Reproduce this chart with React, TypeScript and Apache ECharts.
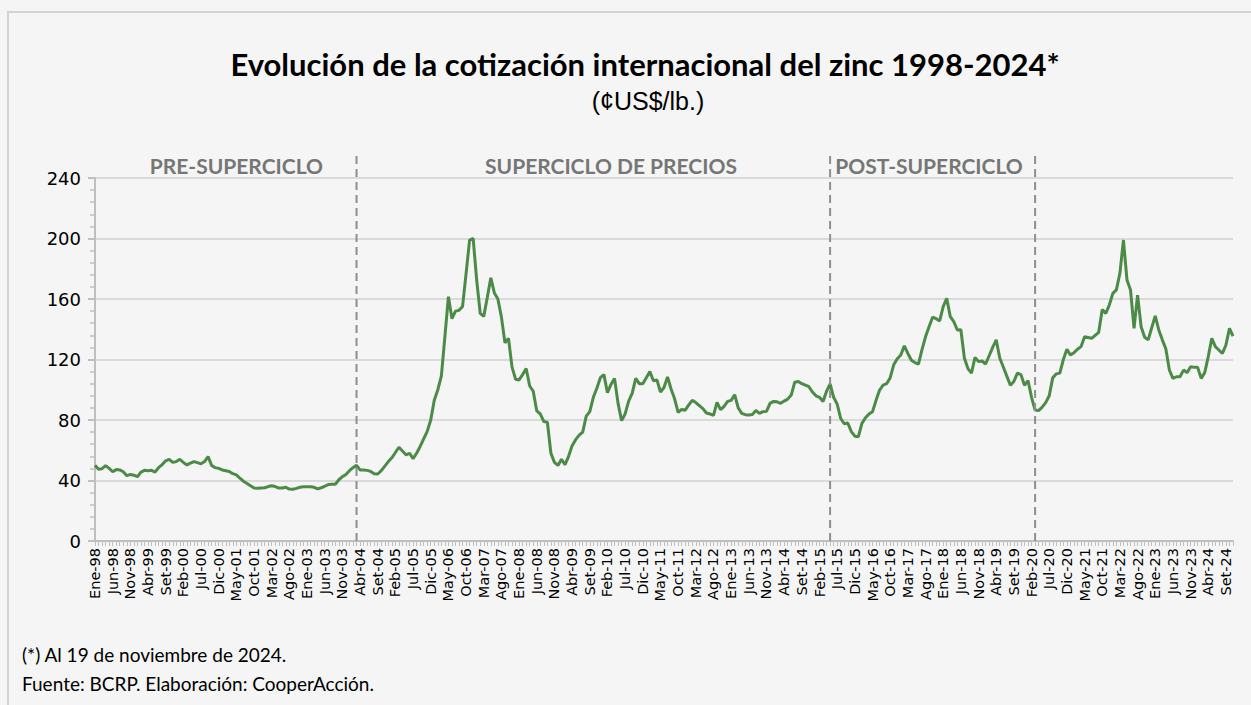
import React, { useEffect, useRef } from "react";
import * as echarts from "echarts";

const monthNames = ["Ene", "Feb", "Mar", "Abr", "May", "Jun", "Jul", "Ago", "Set", "Oct", "Nov", "Dic"];
const firstYear = 1998;
const lastYear = 2024;
const monthsInLastYear = 11;

// Cotización mensual del zinc (¢US$/lb.)
const y1998 = [50.0, 47.5, 47.8, 49.8, 48.0, 45.8, 47.2, 47.0, 45.8, 43.2, 44.0, 43.5];
const y1999 = [42.5, 45.5, 46.7, 46.5, 46.7, 45.6, 48.5, 50.5, 53.0, 54.0, 52.0, 52.5];
const y2000 = [54.0, 52.0, 50.3, 51.5, 52.5, 51.8, 51.0, 52.5, 55.8, 50.0, 48.5, 48.0];
const y2001 = [47.0, 46.5, 46.0, 44.5, 43.7, 41.5, 39.5, 38.0, 36.5, 35.0, 34.8, 35.0];
const y2002 = [35.2, 36.0, 36.5, 36.0, 35.0, 35.0, 35.5, 34.3, 34.2, 34.8, 35.5, 35.8];
const y2003 = [35.8, 35.8, 35.5, 34.5, 35.2, 36.2, 37.3, 37.5, 37.5, 40.5, 42.5, 44.0];
const y2004 = [46.5, 48.5, 50.0, 47.0, 47.0, 46.7, 46.0, 44.5, 44.3, 46.5, 49.5, 52.5];
const y2005 = [55.0, 58.5, 62.0, 59.5, 57.0, 58.0, 54.5, 58.0, 62.5, 67.5, 72.5, 80.0];
const y2006 = [93.0, 100.0, 109.0, 135.0, 161.5, 147.0, 152.0, 152.5, 155.0, 177.0, 199.0, 200.0];
const y2007 = [172.5, 150.5, 148.5, 161.0, 174.0, 164.0, 160.0, 148.0, 131.0, 134.0, 115.0, 107.0];
const y2008 = [106.5, 110.0, 114.0, 102.5, 99.0, 86.0, 84.0, 79.0, 78.5, 58.0, 52.0, 50.0];
const y2009 = [54.0, 50.5, 56.0, 63.0, 67.0, 70.0, 72.0, 82.6, 85.5, 95.0, 101.0, 108.0];
const y2010 = [110.0, 98.0, 103.5, 107.5, 91.0, 79.6, 84.0, 92.5, 97.6, 107.5, 104.0, 104.0];
const y2011 = [108.0, 112.0, 106.0, 106.5, 98.5, 101.5, 108.5, 100.5, 94.0, 85.0, 87.0, 86.5];
const y2012 = [90.0, 93.0, 91.5, 89.5, 87.5, 84.6, 84.0, 83.0, 91.6, 86.8, 89.0, 92.3];
const y2013 = [93.0, 96.7, 88.0, 84.4, 83.5, 83.3, 83.7, 86.3, 84.4, 85.5, 85.7, 91.0];
const y2014 = [92.3, 92.0, 91.0, 92.5, 93.8, 96.5, 105.0, 105.5, 104.0, 103.0, 102.0, 98.5];
const y2015 = [96.0, 95.0, 92.3, 99.0, 103.8, 95.0, 90.5, 81.0, 77.5, 78.0, 72.3, 69.3];
const y2016 = [69.0, 77.8, 81.5, 84.0, 85.5, 93.0, 99.8, 103.0, 104.0, 108.0, 116.5, 120.5];
const y2017 = [123.0, 129.0, 124.0, 119.5, 118.0, 117.0, 126.5, 135.0, 141.7, 148.0, 147.0, 145.5];
const y2018 = [155.0, 160.5, 148.3, 145.0, 139.5, 139.7, 120.8, 114.0, 111.0, 121.4, 118.6, 119.0];
const y2019 = [117.0, 122.5, 128.0, 133.0, 121.0, 115.0, 109.0, 103.0, 105.5, 111.0, 110.0, 103.0];
const y2020 = [106.0, 95.0, 86.6, 86.2, 88.5, 91.5, 96.0, 108.0, 110.5, 111.0, 120.0, 126.7];
const y2021 = [123.0, 124.5, 126.8, 128.5, 135.0, 134.5, 134.0, 136.0, 138.0, 153.0, 150.5, 156.0];
const y2022 = [163.7, 166.0, 177.0, 199.0, 172.6, 166.0, 140.6, 162.6, 141.7, 134.7, 133.0, 141.0];
const y2023 = [148.8, 139.5, 133.0, 127.0, 113.0, 107.5, 108.6, 108.6, 113.0, 111.3, 115.2, 114.8];
const y2024 = [114.8, 107.5, 111.3, 121.9, 134.0, 128.5, 126.3, 124.0, 129.6, 140.6, 135.5];

const zincValues = [
  ...y1998, ...y1999, ...y2000, ...y2001, ...y2002, ...y2003, ...y2004, ...y2005, ...y2006,
  ...y2007, ...y2008, ...y2009, ...y2010, ...y2011, ...y2012, ...y2013, ...y2014, ...y2015,
  ...y2016, ...y2017, ...y2018, ...y2019, ...y2020, ...y2021, ...y2022, ...y2023, ...y2024,
];

const categories: string[] = [];
for (let y = firstYear; y <= lastYear; y++) {
  for (let m = 0; m < 12; m++) {
    if (y === lastYear && m >= monthsInLastYear) break;
    categories.push(`${monthNames[m]}-${String(y).slice(2)}`);
  }
}

const yMin = 0;
const yMax = 240;
const yStep = 40;

const periodBreaks = ["Mar-04", "May-15", "Mar-20"];
const periodLabels = ["PRE-SUPERCICLO", "SUPERCICLO DE PRECIOS", "POST-SUPERCICLO"];
const periodLabelAnchors = ["May-01", "Mar-10", "Set-17"];

const titleText = "Evolución de la cotización internacional del zinc 1998-2024*";
const subtitleText = "(¢US$/lb.)";
const noteText = "(*) Al 19 de noviembre de 2024.";
const sourceText = "Fuente: BCRP. Elaboración: CooperAcción.";

const BG = "#f4f5f4";
const LINE = "#4b8b47";
const AXIS = "#bfbfbf";

export default function App() {
  const ref = useRef<HTMLDivElement>(null);

  useEffect(() => {
    const el = ref.current;
    if (!el) return;
    const chart = echarts.init(el, null, { renderer: "svg" });
    chart.setOption({
      animation: false,
      backgroundColor: BG,
      grid: { left: 95, top: 178, width: 1138, height: 363, containLabel: false },
      xAxis: {
        type: "category",
        data: categories,
        boundaryGap: false,
        axisLine: { show: true, lineStyle: { color: AXIS, width: 2 } },
        axisTick: { show: true, interval: 0, length: 5, lineStyle: { color: AXIS, width: 1 } },
        axisLabel: {
          interval: 4,
          rotate: 90,
          margin: 7,
          fontFamily: "DejaVu Sans",
          fontSize: 14.5,
          color: "#000000",
        },
        splitLine: { show: false },
      },
      yAxis: {
        type: "value",
        min: yMin,
        max: yMax,
        interval: yStep,
        axisLine: { show: true, lineStyle: { color: AXIS, width: 2 } },
        axisTick: { show: true, length: 7, lineStyle: { color: AXIS, width: 2 } },
        minorTick: { show: true, splitNumber: 5, length: 5, lineStyle: { color: AXIS, width: 1.5 } },
        axisLabel: { fontFamily: "DejaVu Sans", fontSize: 18, color: "#000000", margin: 14 },
        splitLine: { show: true, lineStyle: { color: "#dadada", width: 2 } },
      },
      series: [
        {
          type: "line",
          data: zincValues,
          symbol: "none",
          smooth: false,
          lineStyle: { color: LINE, width: 3 },
          itemStyle: { color: LINE },
          z: 5,
        },
      ],
    });

    const px = (c: string) => chart.convertToPixel({ xAxisIndex: 0 }, c) as number;
    const py = (v: number) => chart.convertToPixel({ yAxisIndex: 0 }, v) as number;
    const yTop = py(yMax);
    const yBottom = py(yMin);

    const graphics: any[] = [
      {
        type: "rect",
        shape: { x: 8, y: 12, width: 1300, height: 760 },
        style: { fill: "none", stroke: "#d2d2d2", lineWidth: 2 },
        silent: true,
        z: 0,
      },
      {
        type: "text",
        x: 645,
        y: 64,
        style: {
          text: titleText,
          font: "bold 31px Lato",
          fill: "#000000",
          textAlign: "center",
          textVerticalAlign: "middle",
        },
      },
      {
        type: "text",
        x: 648,
        y: 101,
        style: {
          text: subtitleText,
          font: "25px 'Liberation Sans'",
          fill: "#000000",
          textAlign: "center",
          textVerticalAlign: "middle",
        },
      },
      {
        type: "text",
        x: 22,
        y: 654,
        style: { text: noteText, font: "19px Lato", fill: "#000000", textVerticalAlign: "middle" },
      },
      {
        type: "text",
        x: 22,
        y: 683,
        style: { text: sourceText, font: "19px Lato", fill: "#000000", textVerticalAlign: "middle" },
      },
    ];

    periodBreaks.forEach((c) => {
      const x = px(c);
      graphics.push({
        type: "line",
        shape: { x1: x, y1: yBottom, x2: x, y2: yTop - 22 },
        style: { stroke: "#8f8f8f", lineWidth: 2, lineDash: [8, 5] },
        z: 10,
      });
    });

    periodLabels.forEach((t, i) => {
      graphics.push({
        type: "text",
        x: px(periodLabelAnchors[i]),
        y: yTop - 13,
        style: {
          text: t,
          font: "bold 21px Lato",
          fill: "#767676",
          textAlign: "center",
          textVerticalAlign: "middle",
        },
        z: 10,
      });
    });

    chart.setOption({ graphic: graphics });

    return () => chart.dispose();
  }, []);

  return (
    <div style={{ position: "fixed", left: 0, top: 0, width: 1251, height: 705, background: BG }}>
      <div ref={ref} style={{ width: 1251, height: 705 }} />
    </div>
  );
}
